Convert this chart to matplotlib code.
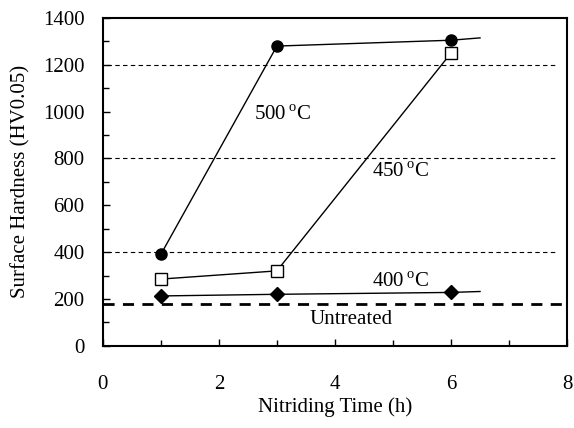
import numpy as np
from matplotlib import pyplot as plt
from matplotlib.ticker import MultipleLocator

plt.rcParams['font.family'] = ['Liberation Serif', 'DejaVu Serif']
plt.rcParams['mathtext.fontset'] = 'custom'
plt.rcParams['mathtext.rm'] = 'Liberation Serif'

# nitriding time (h) and surface hardness (HV0.05)
time = [1, 3, 6]
h500 = [390, 1280, 1305]
h450 = [285, 320, 1250]
h400 = [213, 220, 228]
# trend lines drawn a bit past the last point
t_trend = 6.5
h500_trend = 1315
h400_trend = 232
untreated = 180
grid_levels = [400, 800, 1200]

fig = plt.figure(figsize=(5.74, 4.28), dpi=100)
ax = fig.add_axes([0.179, 0.192, 0.809, 0.766])

for lvl in grid_levels:
    ax.axhline(lvl, xmin=0.01, xmax=0.98, color='black', lw=0.8, ls=(0, (4, 3)))
ax.axhline(untreated, color='black', lw=2, ls=(0, (4, 3)))

ax.plot(time + [t_trend], h500 + [h500_trend], color='black', lw=1)
ax.plot(time, h500, 'o', color='black', ms=8)
ax.plot(time, h450, color='black', lw=1)
ax.plot(time, h450, 's', mfc='white', mec='black', ms=8, mew=1)
ax.plot(time + [t_trend], h400 + [h400_trend], color='black', lw=1)
ax.plot(time, h400, 'D', color='black', ms=7)

fs = 15
ax.text(2.6, 986, r'500$\,^{\mathrm{o}}$C', fontsize=fs, va='center')
ax.text(4.64, 739, r'450$\,^{\mathrm{o}}$C', fontsize=fs, va='center')
ax.text(4.64, 272, r'400$\,^{\mathrm{o}}$C', fontsize=fs, va='center')
ax.text(3.57, 111, 'Untreated', fontsize=fs, va='center')

ax.set_xlim(0, 8)
ax.set_ylim(0, 1400)
ax.xaxis.set_major_locator(MultipleLocator(2))
ax.xaxis.set_minor_locator(MultipleLocator(1))
ax.yaxis.set_major_locator(MultipleLocator(200))
ax.yaxis.set_minor_locator(MultipleLocator(100))
ax.tick_params(which='both', direction='in', labelsize=fs, width=1)
ax.tick_params(which='major', length=5)
ax.tick_params(which='minor', length=4)
ax.tick_params(axis='x', pad=21)
ax.tick_params(axis='y', pad=13)
for s in ax.spines.values():
    s.set_linewidth(1.5)

ax.set_xlabel('Nitriding Time (h)', fontsize=fs, labelpad=2)
ax.set_ylabel('Surface Hardness (HV0.05)', fontsize=fs, labelpad=9)

fig.savefig('out.png')
